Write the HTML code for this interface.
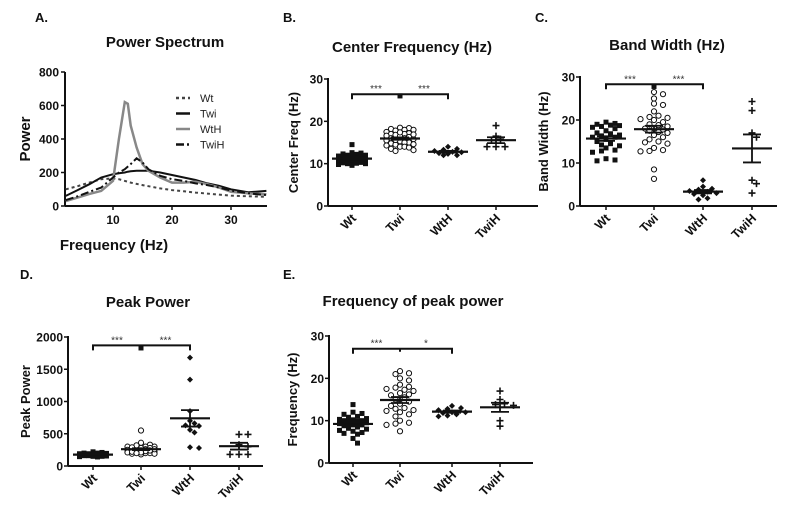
<!DOCTYPE html>
<html><head><meta charset="utf-8">
<style>
html,body{margin:0;padding:0;background:#fff;}
svg{display:block;font-family:"Liberation Sans",Arial,sans-serif;}
</style></head>
<body>
<svg id="fig" width="785" height="520" viewBox="0 0 785 520"></svg>
<script>
// ---------- Panel A data ----------
const specFreq = [2,4,6,8,10,11,12,12.5,13,14,15,16,18,20,22,24,26,28,30,33,36];
const specWt   = [100,118,140,160,165,160,150,145,140,132,125,118,105,95,88,80,74,68,62,58,55];
const specTwi  = [60,95,130,170,190,195,200,205,207,210,210,210,200,185,170,155,135,120,100,82,90];
const specWtH  = [30,50,72,90,150,400,620,610,480,350,250,210,170,140,140,145,130,110,85,75,70];
const specTwiH = [35,58,85,110,170,200,220,235,250,285,260,220,180,160,150,135,125,110,92,75,65];
const specXTicks = [10,20,30];
const specYTicks = [0,200,400,600,800];
// ---------- Scatter panel data ----------
const cats = ["Wt","Twi","WtH","TwiH"];
const cfWt = [14.5,12.5,12.3,12.2,12,12,11.8,11.6,11.5,11.4,11.3,11.2,11.1,11,11,10.8,10.7,10.6,10.5,10.4,10.3,10.2,10.1,10,10,9.8,9.6,12.6,11.7,10.9];
const cfTwi = [18.5,18.4,18.2,18,18,17.8,17.5,17.2,17,17,16.8,16.5,16.3,16,16,15.8,15.5,15.3,15,15,14.8,14.5,14.3,14,14,13.8,13.5,13.2,13,16.6,15.6,17.4,14.6,16.9];
const cfWtH = [14,13.5,13.3,13,12.8,12.7,12.3,12,12,12.5];
const cfTwiH = [19,16.5,15.8,15.5,14,14,14];
const cfOut = [26];
const bwWt = [19.5,19.2,19,18.8,18.7,18.5,18.3,18,17.5,17,16.8,16.5,16.3,16,16,15.5,15,14.5,14.2,14,13.5,13,12.8,12.5,11,10.7,10.5];
const bwTwi = [26.5,26,25,23.8,23.5,22,21,20.7,20.5,20.2,20,19.5,19,18.8,18.5,18,18,17.8,17.5,17.2,17,16.5,16,15.5,15,14.8,14.5,13.5,13,12.8,12.7,8.5,6.3];
const bwWtH = [6,4.5,4,3.8,3.5,3.3,3,2.8,2.5,1.5,1.8];
const bwTwiH = [24.3,22.2,17,16,6,5.2,3];
const bwOut = [27.8];
const ppWt = [220,210,200,200,195,190,185,180,180,175,170,170,165,160,160,155,150,150,145,140,190,185,175,170];
const ppTwi = [550,360,330,300,300,280,270,260,250,250,240,230,220,210,200,200,190,190,180,300,280,260,240,230,220,210,200,320,290];
const ppWtH = [1680,1340,850,700,660,630,620,560,520,290,280];
const ppTwiH = [490,490,330,300,180,180,180];
const ppOut = [1830];
const fpWt = [13.8,12,11.7,11.5,11,10.8,10.5,10.3,10.2,10,10,9.8,9.7,9.5,9.3,9,9,8.8,8.5,8.2,8,7.7,7.5,7.2,7,6.8,5.8,4.7];
const fpTwi = [21.7,21.2,21,20,19.5,18.5,18,17.8,17.5,17.3,17,16.5,16.2,16,15.5,15,14.5,14,13.5,13,12.8,12.5,12.3,12,11.5,11,10,9.5,9.3,9,7.5];
const fpWtH = [13.5,13,12.8,12.5,12,12,11.8,11.5,11.2,11];
const fpTwiH = [17,15,14,13.8,13.6,10,8.7];
const fpOut = [];
const ticks30 = [0,10,20,30];
const ticks2000 = [0,500,1000,1500,2000];

const NS="http://www.w3.org/2000/svg";
const svg=document.getElementById('fig');
function mk(tag,attrs,parent,text){const e=document.createElementNS(NS,tag);for(const k in attrs)e.setAttribute(k,attrs[k]);if(text!==undefined)e.textContent=text;(parent||svg).appendChild(e);return e;}

function txt(x,y,s,size,anchor,name,extra){
  const t=mk('text',Object.assign({x:x,y:y,'font-size':size,'font-weight':'bold','text-anchor':anchor||'middle',fill:'#111'},extra||{}),svg,s);
  
  
  return t;
}

txt(35,22,"A.",13,'start','panel-label-a');
txt(283,22,"B.",13,'start','panel-label-b');
txt(535,22,"C.",13,'start','panel-label-c');
txt(20,279,"D.",13,'start','panel-label-d');
txt(283,279,"E.",13,'start','panel-label-e');

// ---------- Panel A ----------
(function(){
  const x0=65,x1=267,y0=206,yT=72;
  const fx=f=>113+(f-10)*5.9;
  const fy=v=>y0-(v/800)*(y0-yT);
  txt(165,47,"Power Spectrum",15,'middle','spectrum-title');
  txt(0,0,"Power",15,'middle','spectrum-y-axis-title',{transform:'translate(30,139) rotate(-90)'});
  txt(114,250,"Frequency (Hz)",15,'middle','spectrum-x-axis-title');
  const g=mk('g',{});
  
  
  mk('line',{x1:x0,y1:yT,x2:x0,y2:y0,stroke:'#111','stroke-width':2},g);
  mk('line',{x1:x0,y1:y0,x2:x1,y2:y0,stroke:'#111','stroke-width':2},g);
  specYTicks.forEach(v=>{mk('line',{x1:x0-4,y1:fy(v),x2:x0,y2:fy(v),stroke:'#111','stroke-width':1.5},g);
    txt(x0-6,fy(v)+4.5,String(v),12,'end','spectrum-y-tick');});
  specXTicks.forEach(v=>{mk('line',{x1:fx(v),y1:y0,x2:fx(v),y2:y0+4,stroke:'#111','stroke-width':1.5},g);
    txt(fx(v),y0+18,String(v),12,'middle','spectrum-x-tick');});
  const series=[[specWt,'#444','3,3','wt'],[specTwi,'#111','', 'twi'],[specWtH,'#888','','wth'],[specTwiH,'#111','8,3,2,3','twih']];
  series.forEach(s=>{
    const d=specFreq.map((f,i)=>(i?'L':'M')+fx(f).toFixed(1)+','+fy(s[0][i]).toFixed(1)).join('');
    const p=mk('path',{d:d,fill:'none',stroke:s[1],'stroke-width':s[3]=='wth'?2.5:2,'stroke-dasharray':s[2]});
    
    
  });
  const labs=["Wt","Twi","WtH","TwiH"];
  series.forEach((s,i)=>{
    const y=98+i*15.5;
    const l=mk('line',{x1:176,y1:y,x2:190,y2:y,stroke:s[1],'stroke-width':2.5,'stroke-dasharray':s[2]});
    
    
    const t=mk('text',{x:200,y:y+4,'font-size':11,fill:'#222'},svg,labs[i]);
    
    
  });
})();

// ---------- Scatter panels ----------
function marker(g,type,x,y){
  let e;
  if(type==='sq') e=mk('rect',{x:x-2.5,y:y-2.5,width:5,height:5,fill:'#111'},g);
  else if(type==='ci') e=mk('circle',{cx:x,cy:y,r:2.6,fill:'#fff',stroke:'#111','stroke-width':1},g);
  else if(type==='di') e=mk('path',{d:`M${x},${y-3}L${x+3},${y}L${x},${y+3}L${x-3},${y}Z`,fill:'#111'},g);
  else e=mk('path',{d:`M${x-3.5},${y}H${x+3.5}M${x},${y-3.5}V${y+3.5}`,stroke:'#111','stroke-width':1.6},g);
  
  
}
function swarm(vals,fy){
  const placed=[],out=[];
  const maxW=17, step=4.5, minD=5;
  const order=vals.map((v,i)=>i).sort((a,b)=>vals[b]-vals[a]);
  order.forEach(i=>{
    const y=fy(vals[i]);let best=0,bestD=-1;
    const cands=[0];
    for(let k=1;k*step<=maxW;k++){cands.push(k*step,-k*step);}
    for(const c of cands){
      const d=placed.length?Math.min(...placed.map(p=>Math.hypot(p[0]-c,p[1]-y))):99;
      if(d>=minD){best=c;bestD=d;break;}
      if(d>bestD){bestD=d;best=c;}
    }
    placed.push([best,y]);out[i]=best;
  });
  return out;
}
function scatterPanel(c){
  const {ax,ay0,ayT,ymax,xe,cx,title,tx,ty,ylabel,ylx,groups,out,ticks,bracketV,stars}=c;
  const fy=v=>ay0-(v/ymax)*(ay0-ayT);
  txt(tx,ty,title,15,'middle',c.name+'-title');
  txt(0,0,ylabel,13,'middle',c.name+'-y-axis-title',{transform:`translate(${ylx},${(ay0+ayT)/2}) rotate(-90)`});
  const g=mk('g',{});
  
  
  mk('line',{x1:ax,y1:ayT-1,x2:ax,y2:ay0,stroke:'#111','stroke-width':2},g);
  mk('line',{x1:ax,y1:ay0,x2:xe,y2:ay0,stroke:'#111','stroke-width':2},g);
  ticks.forEach(v=>{mk('line',{x1:ax-4,y1:fy(v),x2:ax,y2:fy(v),stroke:'#111','stroke-width':1.5},g);
    txt(ax-5,fy(v)+4.5,String(v),12,'end',c.name+'-y-tick');});
  const types=['sq','ci','di','pl'];
  groups.forEach((vals,gi)=>{
    const x=cx[gi];
    mk('line',{x1:x,y1:ay0,x2:x,y2:ay0+4,stroke:'#111','stroke-width':1.5},g);
    txt(0,0,cats[gi],12.5,'end',c.name+'-x-tick-'+cats[gi].toLowerCase(),{transform:`translate(${x+5},${ay0+13}) rotate(-45)`});
    const gg=mk('g',{});
    
    
    const dx=swarm(vals,fy);
    vals.forEach((v,i)=>marker(gg,types[gi],x+dx[i],fy(v)));
    const n=vals.length,m=vals.reduce((a,b)=>a+b,0)/n;
    const sd=Math.sqrt(vals.reduce((a,b)=>a+(b-m)*(b-m),0)/(n-1)),se=sd/Math.sqrt(n);
    const mm=mk('line',{x1:x-20,y1:fy(m),x2:x+20,y2:fy(m),stroke:'#111','stroke-width':2.2},gg);
    
    
    const eb=mk('path',{d:`M${x},${fy(m+se)}V${fy(m-se)}M${x-9},${fy(m+se)}H${x+9}M${x-9},${fy(m-se)}H${x+9}`,stroke:'#111','stroke-width':1.8,fill:'none'},gg);
    
    
  });
  out.forEach(v=>marker(g,'sq',cx[1],fy(v)));
  const by=fy(bracketV);
  const br=mk('path',{d:`M${cx[0]},${by+5}V${by}H${cx[2]}V${by+5}M${cx[1]},${by}V${by+3}`,stroke:'#111','stroke-width':2,fill:'none'});
  
  
  txt((cx[0]+cx[1])/2,by-2,stars[0],10,'middle',c.name+'-significance-1',{'font-weight':'normal',fill:'#333'});
  txt((cx[1]+cx[2])/2,by-2,stars[1],10,'middle',c.name+'-significance-2',{'font-weight':'normal',fill:'#333'});
}
scatterPanel({name:'center-freq',ax:328,ay0:206,ayT:79,ymax:30,xe:538,cx:[352,400,448,496],title:"Center Frequency (Hz)",tx:412,ty:52,ylabel:"Center Freq (Hz)",ylx:298,groups:[cfWt,cfTwi,cfWtH,cfTwiH],out:cfOut,ticks:ticks30,bracketV:26.4,stars:["***","***"]});
scatterPanel({name:'band-width',ax:580,ay0:206,ayT:77,ymax:30,xe:777,cx:[606,654,703,752],title:"Band Width (Hz)",tx:667,ty:50,ylabel:"Band Width (Hz)",ylx:548,groups:[bwWt,bwTwi,bwWtH,bwTwiH],out:bwOut,ticks:ticks30,bracketV:28.3,stars:["***","***"]});
scatterPanel({name:'peak-power',ax:68,ay0:466,ayT:337,ymax:2000,xe:263,cx:[93,141,190,239],title:"Peak Power",tx:148,ty:307,ylabel:"Peak Power",ylx:30,groups:[ppWt,ppTwi,ppWtH,ppTwiH],out:ppOut,ticks:ticks2000,bracketV:1870,stars:["***","***"]});
scatterPanel({name:'peak-freq',ax:329,ay0:463,ayT:336,ymax:30,xe:533,cx:[353,400,452,500],title:"Frequency of peak power",tx:413,ty:306,ylabel:"Frequency (Hz)",ylx:297,groups:[fpWt,fpTwi,fpWtH,fpTwiH],out:fpOut,ticks:ticks30,bracketV:27,stars:["***","*"]});
</script>
</body></html>
